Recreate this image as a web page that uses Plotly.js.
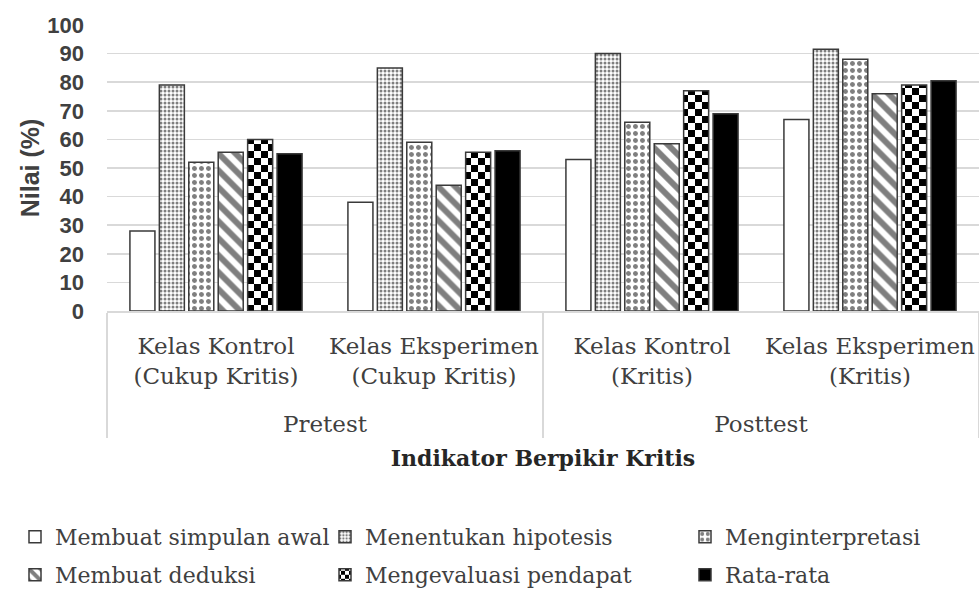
<!DOCTYPE html>
<html>
<head>
<meta charset="utf-8">
<script src="https://cdn.plot.ly/plotly-3.0.1.min.js"></script>
<style>html,body{margin:0;padding:0;background:#fff;}#chart{width:979px;height:589px;}</style>
</head>
<body>
<div id="chart"></div>
<script>
// ---- data ----
const testPhase = ['Pretest', 'Pretest', 'Posttest', 'Posttest'];
const classLabels = [
  'Kelas Kontrol<br>(Cukup Kritis)',
  'Kelas Eksperimen<br>(Cukup Kritis)',
  'Kelas Kontrol<br>(Kritis)',
  'Kelas Eksperimen<br>(Kritis)'
];
const seriesNames = [
  'Membuat simpulan awal',
  'Menentukan hipotesis',
  'Menginterpretasi',
  'Membuat deduksi',
  'Mengevaluasi pendapat',
  'Rata-rata'
];
const simpulanAwal = [28, 38, 53, 67];
const hipotesis = [79, 85, 90, 91.5];
const interpretasi = [52, 59, 66, 88];
const deduksi = [55.5, 44, 58.5, 76];
const evaluasi = [60, 55.5, 77, 79];
const rataRata = [55, 56, 69, 80.5];
const yTicks = [0, 10, 20, 30, 40, 50, 60, 70, 80, 90, 100];

// ---- styles ----
const outline = {color: '#3a3a3a', width: 1.5};
const styles = [
  {color: '#ffffff', pattern: {shape: ''}},
  {color: '#ffffff', pattern: {shape: '.', size: 4, solidity: 0.45, fgcolor: '#000', bgcolor: '#fff', fillmode: 'overlay'}},
  {color: '#ffffff', pattern: {shape: '.', size: 7, solidity: 0.4, fgcolor: '#000', bgcolor: '#fff', fillmode: 'overlay'}},
  {color: '#ffffff', pattern: {shape: '\\', size: 12, solidity: 0.5, fgcolor: '#000', bgcolor: '#fff', fillmode: 'overlay'}},
  {color: '#ffffff', pattern: {shape: '+', size: 14, solidity: 0.5, fgcolor: '#000', bgcolor: '#fff', fillmode: 'overlay'}},
  {color: '#000000', pattern: {shape: ''}}
];
const allValues = [simpulanAwal, hipotesis, interpretasi, deduksi, evaluasi, rataRata];
const legendIds = ['legend', 'legend2', 'legend3', 'legend4', 'legend5', 'legend6'];
const legendX = [15, 325, 685, 15, 325, 685];
const legendY = [52, 52, 52, 14, 14, 14];

const serif = 'DejaVu Serif, serif';
const sans = 'Liberation Sans, Arial, sans-serif';

// an empty spacer line under each class label gives the outer row (Pretest / Posttest) room
const paddedLabels = classLabels.map(l => l + '<br><span style="font-size:37px">\u00a0</span>');

const traces = allValues.map((vals, i) => ({
  type: 'bar',
  name: seriesNames[i],
  x: [testPhase, paddedLabels],
  y: vals,
  legend: legendIds[i],
  marker: {
    color: styles[i].color,
    line: outline,
    pattern: styles[i].pattern
  },
  hoverinfo: 'skip'
}));

const layout = {
  width: 979, height: 589,
  margin: {l: 107, r: 0, t: 25, b: 278},
  paper_bgcolor: '#ffffff', plot_bgcolor: '#ffffff',
  barmode: 'group',
  bargap: 0.19,
  bargroupgap: 0.15,
  showlegend: true,
  xaxis: {
    type: 'multicategory',
    showline: true, linecolor: '#d9d9d9', linewidth: 1.5,
    ticks: '',
    ticklabelstandoff: 14,
    tickangle: 0,
    showdividers: true, dividercolor: '#d9d9d9', dividerwidth: 1.5,
    tickfont: {family: serif, size: 23, color: '#404040'},
    title: {text: 'Indikator Berpikir Kritis', font: {family: serif, size: 22, color: '#262626', weight: 'bold'}, standoff: 14},
    showgrid: false, zeroline: false,
    automargin: false
  },
  yaxis: {
    range: [0, 100],
    tickvals: yTicks,
    ticktext: yTicks.map(String),
    showgrid: true, gridcolor: '#d9d9d9', gridwidth: 1.5,
    zeroline: false, showline: false, ticks: '',
    ticklabelstandoff: 22,
    tickfont: {family: sans, size: 22, color: '#404040', weight: 'bold'},
    title: {text: 'Nilai (%)', font: {family: sans, size: 25, color: '#404040', weight: 'bold'}, standoff: 0},
    automargin: false
  }
};
legendIds.forEach(function (id, i) {
  layout[id] = {
    orientation: 'h',
    xref: 'container', yref: 'container',
    xanchor: 'left', yanchor: 'middle',
    x: legendX[i] / 979, y: legendY[i] / 589,
    font: {family: serif, size: 22, color: '#404040'},
    itemwidth: 30,
    bgcolor: 'rgba(0,0,0,0)'
  };
});

Plotly.newPlot('chart', traces, layout, {staticPlot: true, displayModeBar: false}).then(function (gd) {
  // turn the "Mengevaluasi pendapat" hatch into a checkerboard tile
  const ns = 'http://www.w3.org/2000/svg';
  const ids = new Set();
  const collect = function (el) {
    const f = (el.style && el.style.fill) || el.getAttribute('fill') || '';
    const m = f.match(/#([^"')]+)/);
    if (m) ids.add(m[1]);
  };
  const barTraces = gd.querySelectorAll('.barlayer .trace');
  if (barTraces[4]) barTraces[4].querySelectorAll('path').forEach(collect);
  gd.querySelectorAll('.traces').forEach(function (t) {
    const tx = t.querySelector('text');
    if (tx && tx.textContent === seriesNames[4]) t.querySelectorAll('.legendpoints path').forEach(collect);
  });
  ids.forEach(function (id) {
    const pat = document.getElementById(id);
    if (!pat) return;
    const s = parseFloat(pat.getAttribute('width')) || 14;
    while (pat.firstChild) pat.removeChild(pat.firstChild);
    const mk = function (x, y, w, h, c) {
      const r = document.createElementNS(ns, 'rect');
      r.setAttribute('x', x); r.setAttribute('y', y);
      r.setAttribute('width', w); r.setAttribute('height', h);
      r.setAttribute('fill', c);
      pat.appendChild(r);
    };
    mk(0, 0, s, s, '#ffffff');
    mk(0, 0, s / 2, s / 2, '#000000');
    mk(s / 2, s / 2, s / 2, s / 2, '#000000');
  });
});
</script>
</body>
</html>
